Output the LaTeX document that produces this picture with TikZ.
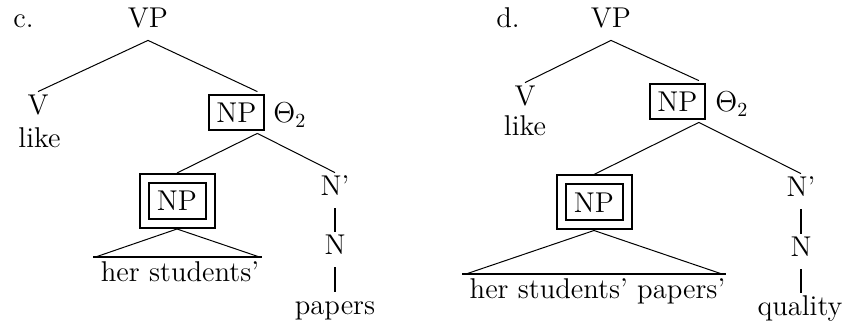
\documentclass[tikz,border=0pt]{standalone}
\usetikzlibrary{fit}
\tikzset{
  fnt/.style={font=\fontsize{14.3pt}{16pt}\selectfont},
  lbl/.style={fnt, inner xsep=1pt, inner ysep=2.5pt, text height=9pt, text depth=3.5pt, anchor=base},
  leaf/.style={fnt, inner sep=0pt, anchor=base},
  thinline/.style={line width=0.5pt},
  vertline/.style={line width=0.9pt},
  triline/.style={line width=1pt},
  npbox/.style={fnt, draw, line width=1pt, minimum width=27.5pt, minimum height=17.5pt, inner sep=0pt},
  dnpbox/.style={fnt, draw, double, line width=1pt, double distance=3.5pt, minimum width=33pt, minimum height=22.5pt, inner sep=0pt, outer sep=2.75pt},
  theta/.style={fnt, inner sep=0pt, anchor=base west},
}
\begin{document}
\begin{tikzpicture}[x=0.5pt, y=-0.5pt]
\useasboundingbox (0,0) rectangle (846,325);
% ---------- panel c ----------
\node[leaf, anchor=base west] (cl) at (13,28) {c.};
\node[lbl] (cVP) at (148,28) {VP};
\node[lbl] (cV) at (38,115) {V};
\node[leaf] (clike) at (39.5,148) {like};
\node[npbox] (cNPb) at (236.5,112.5) {NP};
\node[theta] (cTh) at (273,123) {$\Theta_2$};
\node[fit=(cNPb)(cTh), inner sep=1pt] (cNP) {};
\node[dnpbox] (cDNP) at (177,201) {NP};
\coordinate (cB1) at (93,257);
\coordinate (cB2) at (262,257);
\coordinate (cS1) at (97,256.5);
\coordinate (cS2) at (258,256.5);
\node[leaf] (cHer) at (180,282) {her students'};
\node[lbl] (cNb) at (335,196) {N'};
\node[lbl] (cN) at (335,255) {N};
\node[lbl] (cPap) at (335,315) {papers};
\draw[thinline] (cVP.south) -- (cV.north);
\draw[thinline] (cVP.south) -- (cNP.north);
\draw[thinline] (cNP.south) -- (cDNP.north);
\draw[thinline] (cNP.south) -- (cNb.north);
\draw[vertline] (cNb.south) -- (cN.north);
\draw[vertline] (cN.south) -- (cPap.north);
\draw[thinline] (cS1) -- (cDNP.south) -- (cS2);
\draw[triline] (cB1) -- (cB2);
% ---------- panel d ----------
\node[leaf, anchor=base west] (dl) at (496,28) {d.};
\node[lbl] (dVP) at (611,28) {VP};
\node[lbl] (dV) at (525,106) {V};
\node[leaf] (dlike) at (525,136) {like};
\node[npbox] (dNPb) at (677.5,101.5) {NP};
\node[theta] (dTh) at (715,112) {$\Theta_2$};
\node[fit=(dNPb)(dTh), inner sep=1pt] (dNP) {};
\node[dnpbox] (dDNP) at (594,202.5) {NP};
\coordinate (dB1) at (462,274.5);
\coordinate (dB2) at (726,274.5);
\coordinate (dS1) at (466,274);
\coordinate (dS2) at (722,274);
\node[leaf] (dHer) at (597.5,299) {her students' papers'};
\node[lbl] (dNb) at (801,197) {N'};
\node[lbl] (dN) at (801,257) {N};
\node[lbl] (dQual) at (800,316) {quality};
\draw[thinline] (dVP.south) -- (dV.north);
\draw[thinline] (dVP.south) -- (dNP.north);
\draw[thinline] (dNP.south) -- (dDNP.north);
\draw[thinline] (dNP.south) -- (dNb.north);
\draw[vertline] (dNb.south) -- (dN.north);
\draw[vertline] (dN.south) -- (dN.south |- dQual.north);
\draw[thinline] (dS1) -- (dDNP.south) -- (dS2);
\draw[triline] (dB1) -- (dB2);
\end{tikzpicture}
\end{document}
